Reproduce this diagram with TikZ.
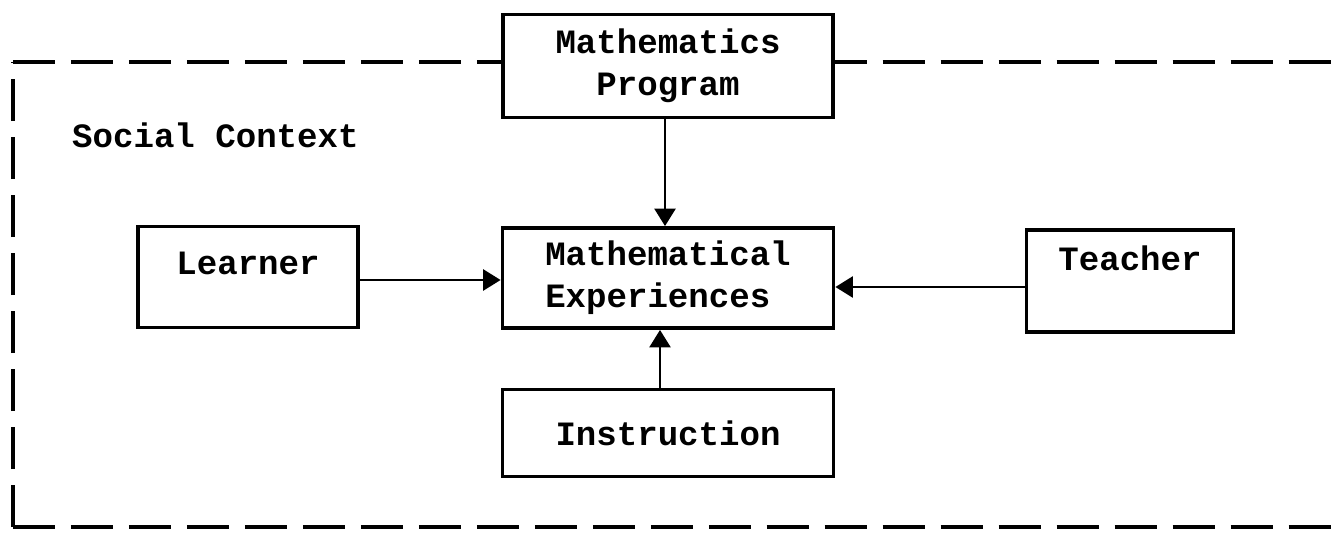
\documentclass[tikz,border=0pt]{standalone}
\usepackage{fontspec}
\setmonofont{Liberation Mono}
\usetikzlibrary{arrows.meta}

\begin{document}
\begin{tikzpicture}[x=0.02cm, y=-0.02cm,
  box/.style={draw, fill=white, line width=2.2pt, inner sep=0pt, align=center,
    font=\ttfamily\bfseries\fontsize{19.4}{24}\selectfont},
  link/.style={line width=1.5pt, -{Triangle[length=10pt, width=12pt]}},
  frame/.style={line width=2.6pt, dash pattern=on 24pt off 9pt}]
  \useasboundingbox (0,0) rectangle (1344,544);

  % social context, open at the right
  \coordinate (tl) at (13,62);
  \coordinate (bl) at (13,527);
  \draw[frame] (tl) -- (1344,62);
  \draw[frame] (bl) -- (tl);
  \draw[frame] (bl) -- (1344,527);
  \node[anchor=west, font=\ttfamily\bfseries\fontsize{19.4}{24}\selectfont] (ctx) at (66,135) {Social Context};

  \node[box, minimum width=6.6cm,  minimum height=2.06cm] (prog)    at (668,66)  {Mathematics\\Program};
  \node[box, minimum width=4.4cm,  minimum height=2.02cm] (learner) at (248,277) {Learner\\[-8pt]~};
  \node[box, minimum width=6.62cm, minimum height=2.0cm, align=left] (exper) at (668,278) {Mathematical\\Experiences};
  \node[box, minimum width=4.14cm, minimum height=2.04cm] (teacher) at (1130,281) {Teacher\\[2pt]~};
  \node[box, minimum width=6.62cm, minimum height=1.74cm] (instr)   at (668,433) {Instruction};

  \draw[link] ([xshift=-0.06cm]prog.south) -- ([xshift=-0.06cm]prog.south |- exper.north);
  \draw[link] ([yshift=-0.06cm]learner.east) -- ([yshift=-0.06cm]learner.east -| exper.west);
  \draw[link] ([yshift=-0.12cm]teacher.west) -- ([yshift=-0.12cm]teacher.west -| exper.east);
  \draw[link] ([xshift=-0.16cm]instr.north) -- ([xshift=-0.16cm]instr.north |- exper.south);
\end{tikzpicture}
\end{document}
